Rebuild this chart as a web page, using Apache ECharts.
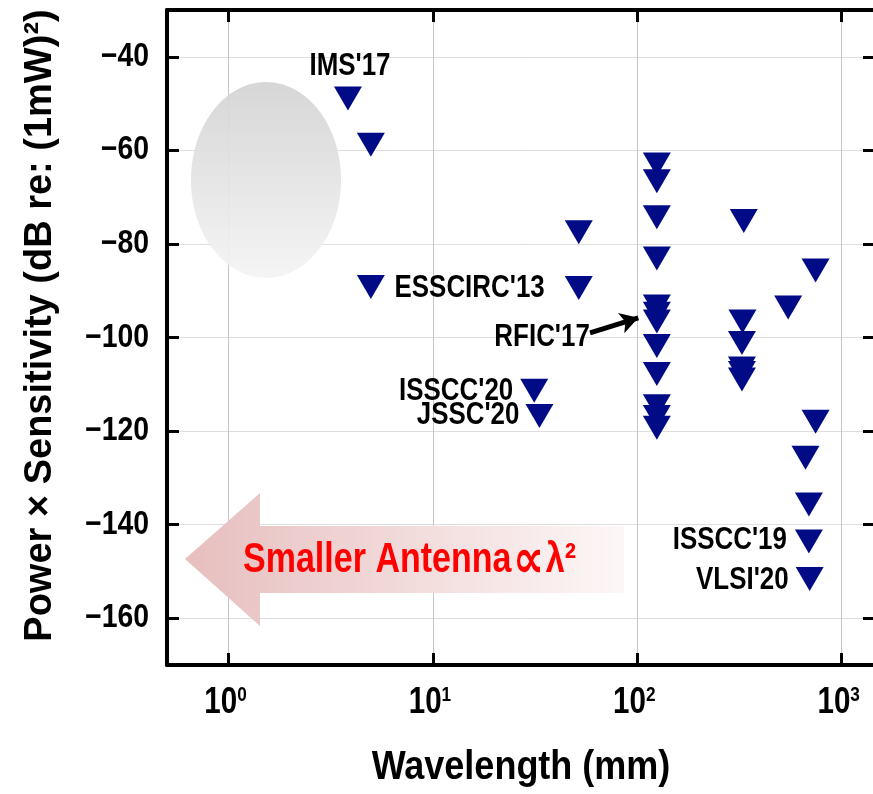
<!DOCTYPE html>
<html>
<head>
<meta charset="utf-8">
<script src="https://cdn.jsdelivr.net/npm/echarts@6/dist/echarts.min.js"></script>
<style>
  html, body { margin: 0; padding: 0; background: #fff; }
  #chart { width: 873px; height: 794px; }
</style>
</head>
<body>
<div id="chart"></div>
<script>
// Wavelength (mm) of each reported receiver
const wavelengths = [
  3.84, 4.97, 4.97, 51.7, 51.7, 31.3, 33.2,
  124.6, 124.6, 124.6, 124.6, 124.6, 124.6, 124.6, 124.6, 124.6, 124.6, 124.6, 124.6,
  331.8, 327, 325, 325, 325, 325,
  745, 547, 745, 665, 691, 691, 697
];
// Power x sensitivity, dB re: (1mW)^2
const figures = [
  -48.9, -58.8, -89.2, -77.5, -89.4, -111.4, -116.8,
  -63.0, -66.6, -74.3, -83.1, -93.4, -94.9, -96.6, -101.8, -107.8, -114.7, -117.0, -119.3,
  -75.1, -96.6, -101.2, -106.6, -107.6, -109.0,
  -85.7, -93.6, -118.0, -125.7, -135.7, -143.6, -151.6
];
// Publication tags, '' where the point is unlabelled
const tags = [
  "IMS'17", '', '', '', "ESSCIRC'13", "ISSCC'20", "JSSC'20",
  '', '', '', '', '', '', "RFIC'17", '', '', '', '', '',
  '', '', '', '', '', '',
  '', '', '', '', '', "ISSCC'19", "VLSI'20"
];
// Pointer from the RFIC'17 tag to its cluster: [wavelength, figure] pairs
const rficPointer = [[58.7, -99.0], [101.1, -95.8]];

const yTicks = [-160, -140, -120, -100, -80, -60, -40];
const decades = [1, 10, 100, 1000];
const X_MIN = 0.5, X_MAX = 1455, Y_MIN = -170, Y_MAX = -30;

const FONT = "'Liberation Sans', Arial, sans-serif";
const NAVY = '#020b86';
const RED = '#ff0000';

// where each tag sits relative to its marker (dx from marker edge, dy from centre)
const tagPlacement = {
  "IMS'17":     { side: 'top', dx: 2, dy: -32 },
  "ESSCIRC'13": { side: 'left', dx: 20, dy: 0 },
  "RFIC'17":    { side: 'left', dx: 53, dy: 16 },
  "ISSCC'20":   { side: 'left', dx: 7, dy: 0 },
  "JSSC'20":    { side: 'left', dx: 6, dy: -1 },
  "ISSCC'19":   { side: 'left', dx: 8, dy: -1 },
  "VLSI'20":    { side: 'left', dx: 7, dy: 1 }
};

const axisLineStyle = { color: '#000', width: 4 };
const tickStyle = { show: true, inside: true, length: 12, lineStyle: { color: '#000', width: 3 } };

const chart = echarts.init(document.getElementById('chart'), null, { renderer: 'canvas' });

chart.setOption({
  animation: false,
  backgroundColor: '#fff',
  grid: { left: 167, top: 10, width: 708, height: 655, containLabel: false, outerBoundsMode: 'none' },
  xAxis: [
    {
      type: 'log', logBase: 10, min: X_MIN, max: X_MAX, position: 'bottom',
      axisLine: { show: true, lineStyle: axisLineStyle },
      axisTick: tickStyle,
      minorTick: { show: false },
      axisLabel: { show: false },
      splitLine: { show: true, lineStyle: { color: '#c6c6c6', width: 1 } }
    },
    {
      type: 'log', logBase: 10, min: X_MIN, max: X_MAX, position: 'top',
      axisLine: { show: true, lineStyle: axisLineStyle },
      axisTick: tickStyle,
      axisLabel: { show: false },
      splitLine: { show: false }
    }
  ],
  yAxis: [
    {
      type: 'value', min: Y_MIN, max: Y_MAX, position: 'left',
      axisLine: { show: true, lineStyle: axisLineStyle },
      axisTick: Object.assign({ customValues: yTicks }, tickStyle),
      axisLabel: { show: false, customValues: yTicks },
      splitLine: { show: true, lineStyle: { color: '#dedede', width: 1 } }
    },
    {
      type: 'value', min: Y_MIN, max: Y_MAX, position: 'right',
      axisLine: { show: true, lineStyle: axisLineStyle },
      axisTick: Object.assign({ customValues: yTicks }, tickStyle),
      axisLabel: { show: false, customValues: yTicks },
      splitLine: { show: false }
    }
  ],
  series: [
    {
      type: 'scatter', xAxisIndex: 0, yAxisIndex: 0, z: 5,
      symbol: 'triangle', symbolRotate: 180, symbolSize: [28, 24],
      itemStyle: { color: NAVY, opacity: 1 },
      emphasis: { disabled: true },
      data: wavelengths.map((w, i) => [w, figures[i]]),
      markLine: {
        silent: true, animation: false,
        symbol: ['none', 'arrow'], symbolSize: [16, 18],
        lineStyle: { color: '#000', width: 5, type: 'solid' },
        label: { show: false },
        data: [[{ coord: rficPointer[0] }, { coord: rficPointer[1] }]]
      }
    }
  ]
});

// Text is laid out as graphic elements so it can use a condensed bold face
function textEl(x, y, text, size, align, vAlign, scaleX, extra) {
  return Object.assign({
    type: 'text', x: x, y: y, scaleX: scaleX, silent: true, z: 10,
    style: {
      text: text, fill: '#000', fontFamily: FONT, fontWeight: 'bold', fontSize: size,
      align: align, verticalAlign: vAlign, textAlign: align, textVerticalAlign: vAlign
    }
  }, extra || {});
}

const toPx = (x, y) => chart.convertToPixel({ xAxisIndex: 0, yAxisIndex: 0 }, [x, y]);
const [gridLeft, gridBottom] = toPx(X_MIN, Y_MIN);
const [gridRight, gridTop] = toPx(X_MAX, Y_MAX);

const banner = textEl(243, 560, '{a|Smaller Antenna}{p|\u221d}{a|\u03bb\u00b2}', 42, 'left', 'middle', 0.81);
banner.style.fill = RED;
banner.style.rich = {
  a: { fontFamily: FONT, fontWeight: 'bold', fontSize: 42, fill: RED, color: RED },
  p: { fontFamily: "'DejaVu Sans', sans-serif", fontWeight: 'bold', fontSize: 54, fill: RED, color: RED, padding: [6, 2, 0, 2] }
};

const overlay = [
  {
    // shaded region in the upper left
    type: 'ellipse', z: 1, silent: true,
    shape: { cx: 266, cy: 180, rx: 75, ry: 98 },
    style: {
      opacity: 0.92,
      fill: new echarts.graphic.LinearGradient(0, 0, 0, 1, [
        { offset: 0, color: '#d3d3d3' }, { offset: 1, color: '#f4f4f4' }
      ])
    }
  },
  {
    // leftward arrow: shorter wavelength means a smaller antenna
    type: 'polygon', z: 1, silent: true,
    shape: { points: [[185, 559], [260, 493], [260, 526], [624, 526], [624, 593], [260, 593], [260, 626]] },
    style: {
      fill: new echarts.graphic.LinearGradient(0, 0, 1, 0, [
        { offset: 0, color: '#e7bebe' }, { offset: 1, color: '#fdf7f7' }
      ])
    }
  },
  banner,
  // axis titles
  textEl((gridLeft + gridRight) / 2, gridBottom + 103, 'Wavelength (mm)', 40, 'center', 'middle', 0.9),
  textEl(41, (gridTop + gridBottom) / 2 - 12, 'Power \u00d7 Sensitivity (dB re: (1mW)\u00b2)', 38, 'center', 'middle', 1,
    { rotation: Math.PI / 2 })
];

// y tick labels
yTicks.forEach(v => {
  const [, py] = toPx(X_MIN, v);
  overlay.push(textEl(gridLeft - 18, py, '\u2212' + Math.abs(v), 33, 'right', 'middle', 0.86));
});

// x tick labels, 10^n
decades.forEach(d => {
  const [px] = toPx(d, Y_MIN);
  const el = textEl(px - 3, gridBottom + 38, '{b|10}{s|' + Math.round(Math.log10(d)) + '}', 32, 'center', 'middle', 0.82);
  el.style.rich = {
    b: { fontFamily: FONT, fontWeight: 'bold', fontSize: 36, fill: '#000', color: '#000' },
    s: { fontFamily: FONT, fontWeight: 'bold', fontSize: 21, fill: '#000', color: '#000', verticalAlign: 'top' }
  };
  overlay.push(el);
});

// publication tags beside their markers
wavelengths.forEach((w, i) => {
  const t = tags[i];
  if (!t) return;
  const p = tagPlacement[t];
  const [px, py] = toPx(w, figures[i]);
  if (p.side === 'top') {
    overlay.push(textEl(px + p.dx, py + p.dy, t, 32, 'center', 'middle', 0.81));
  } else {
    overlay.push(textEl(px - 14 - p.dx, py + p.dy, t, 32, 'right', 'middle', 0.81));
  }
});

chart.setOption({ graphic: overlay });
</script>
</body>
</html>
